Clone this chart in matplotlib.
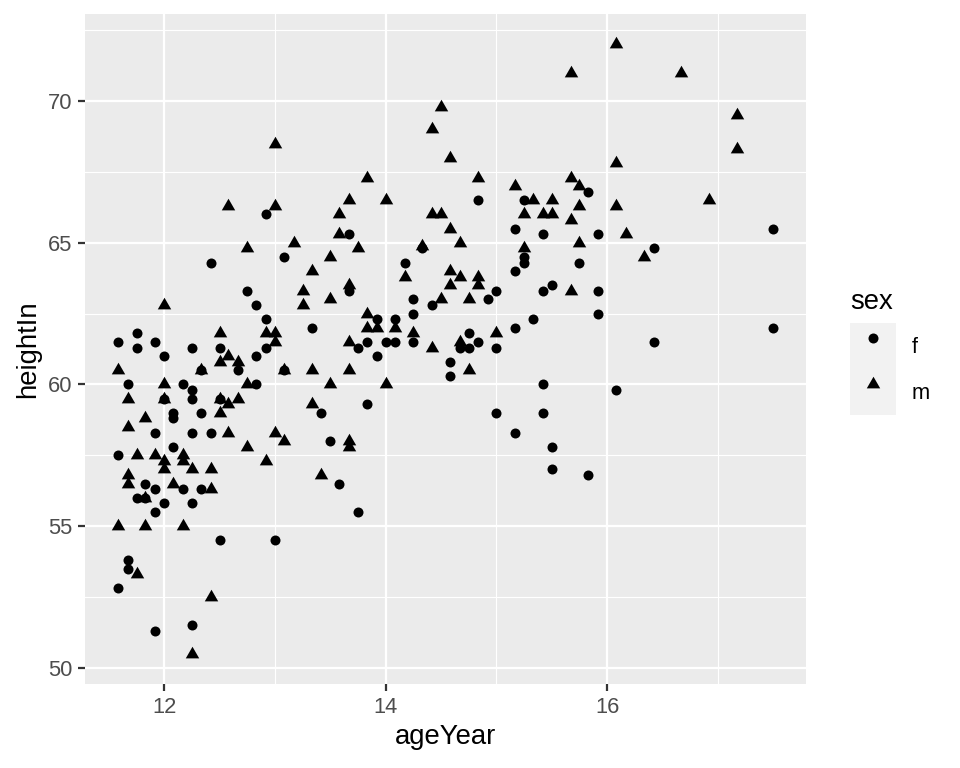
import matplotlib
matplotlib.use('Agg')
import matplotlib.pyplot as plt
import numpy as np
from matplotlib.lines import Line2D
from matplotlib.patches import Rectangle
from matplotlib.legend_handler import HandlerTuple

plt.rcParams['font.family'] = ['Liberation Sans', 'DejaVu Sans']

# girls (circles)
f_age = [
    11.58, 11.58, 11.58, 11.67, 11.67, 11.67, 11.75, 11.75, 11.75, 11.83,
    11.83, 11.92, 11.92, 11.92, 11.92, 11.92, 12.00, 12.00, 12.00, 12.08,
    12.08, 12.08, 12.17, 12.17, 12.25, 12.25, 12.25, 12.25, 12.25, 12.25,
    12.33, 12.33, 12.33, 12.42, 12.42, 12.50, 12.50, 12.50, 12.67, 12.75,
    12.83, 12.83, 12.83, 12.92, 12.92, 12.92, 13.00, 13.08, 13.08, 13.33,
    13.42, 13.50, 13.58, 13.67, 13.67, 13.75, 13.75, 13.83, 13.83, 13.92,
    13.92, 14.00, 14.08, 14.08, 14.17, 14.25, 14.25, 14.25, 14.33, 14.42,
    14.58, 14.58, 14.67, 14.75, 14.75, 14.83, 14.83, 14.92, 15.00, 15.00,
    15.00, 15.17, 15.17, 15.17, 15.17, 15.25, 15.25, 15.25, 15.33, 15.42,
    15.42, 15.42, 15.42, 15.50, 15.50, 15.50, 15.75, 15.83, 15.83, 15.92,
    15.92, 15.92, 16.08, 16.42, 16.42, 17.50, 17.50]
f_height = [
    61.5, 57.5, 52.8, 60.0, 53.8, 53.5, 61.8, 61.3, 56.0, 56.5,
    56.0, 61.5, 58.3, 56.3, 55.5, 51.3, 61.0, 59.5, 55.8, 59.0,
    58.8, 57.8, 60.0, 56.3, 61.3, 59.8, 59.5, 58.3, 55.8, 51.5,
    60.5, 59.0, 56.3, 64.3, 58.3, 61.3, 59.5, 54.5, 60.5, 63.3,
    62.8, 61.0, 60.0, 66.0, 62.3, 61.3, 54.5, 64.5, 60.5, 62.0,
    59.0, 58.0, 56.5, 65.3, 63.3, 61.3, 55.5, 61.5, 59.3, 62.3,
    61.0, 61.5, 62.3, 61.5, 64.3, 63.0, 62.5, 61.5, 64.8, 62.8,
    60.8, 60.3, 61.3, 61.8, 61.3, 66.5, 61.5, 63.0, 63.3, 61.3,
    59.0, 65.5, 64.0, 62.0, 58.3, 66.5, 64.5, 64.3, 62.3, 65.3,
    63.3, 60.0, 59.0, 63.5, 57.8, 57.0, 64.3, 66.8, 56.8, 65.3,
    63.3, 62.5, 59.8, 64.8, 61.5, 65.5, 62.0]

# boys (triangles)
m_age = [
    11.58, 11.58, 11.67, 11.67, 11.67, 11.67, 11.75, 11.75, 11.83, 11.83,
    11.83, 11.92, 12.00, 12.00, 12.00, 12.00, 12.00, 12.08, 12.17, 12.17,
    12.17, 12.25, 12.25, 12.33, 12.42, 12.42, 12.42, 12.50, 12.50, 12.50,
    12.50, 12.58, 12.58, 12.58, 12.58, 12.67, 12.67, 12.75, 12.75, 12.75,
    12.92, 12.92, 13.00, 13.00, 13.00, 13.00, 13.00, 13.08, 13.08, 13.17,
    13.25, 13.25, 13.33, 13.33, 13.33, 13.42, 13.50, 13.50, 13.50, 13.58,
    13.58, 13.67, 13.67, 13.67, 13.67, 13.67, 13.67, 13.75, 13.83, 13.83,
    13.83, 13.92, 14.00, 14.00, 14.08, 14.17, 14.25, 14.33, 14.42, 14.42,
    14.42, 14.50, 14.50, 14.50, 14.58, 14.58, 14.58, 14.58, 14.67, 14.67,
    14.67, 14.75, 14.75, 14.83, 14.83, 14.83, 15.00, 15.17, 15.25, 15.25,
    15.33, 15.42, 15.50, 15.50, 15.67, 15.67, 15.67, 15.67, 15.75, 15.75,
    15.75, 16.08, 16.08, 16.08, 16.17, 16.33, 16.67, 16.92, 17.17, 17.17]
m_height = [
    60.5, 55.0, 59.5, 58.5, 56.8, 56.5, 57.5, 53.3, 58.8, 56.0,
    55.0, 57.5, 62.8, 60.0, 59.5, 57.3, 57.0, 56.5, 57.5, 57.3,
    55.0, 57.0, 50.5, 60.5, 57.0, 56.3, 52.5, 61.8, 60.8, 59.5,
    59.0, 66.3, 61.0, 59.3, 58.3, 60.8, 59.5, 64.8, 60.0, 57.8,
    61.8, 57.3, 68.5, 66.3, 61.8, 61.5, 58.3, 60.5, 58.0, 65.0,
    63.3, 62.8, 64.0, 60.5, 59.3, 56.8, 64.5, 63.0, 60.0, 66.0,
    65.3, 66.5, 63.5, 61.5, 60.5, 58.0, 57.8, 64.8, 67.3, 62.5,
    62.0, 62.0, 66.5, 60.0, 62.0, 63.8, 61.8, 64.9, 69.0, 66.0,
    61.3, 69.8, 66.0, 63.0, 68.0, 65.5, 64.0, 63.5, 65.0, 63.8,
    61.5, 63.0, 60.5, 67.3, 63.8, 63.5, 61.8, 67.0, 66.0, 64.8,
    66.5, 66.0, 66.5, 66.0, 71.0, 67.3, 65.8, 63.3, 67.0, 66.3,
    65.0, 72.0, 67.8, 66.3, 65.3, 64.5, 71.0, 66.5, 69.5, 68.3]

x_major = [12, 14, 16]
x_minor = [13, 15, 17]
y_major = [50, 55, 60, 65, 70]
y_minor = [52.5, 57.5, 62.5, 67.5, 72.5]

# R-style filled triangle (pch 17), centred on centroid
tri = [(-1, -0.577), (1, -0.577), (0, 1.155)]
circ_ms = 4.8
tri_ms = 7.46
tick_fs = 10.5
title_fs = 13.2

fig = plt.figure(figsize=(6.4, 5.12), dpi=150)
ax = fig.add_axes([85/960, 1-684/768, (806-85)/960, (684-14)/768])
ax.set_facecolor('#EBEBEB')

ax.plot(f_age, f_height, linestyle='none', marker='o', ms=circ_ms, mew=0, color='black', zorder=3)
ax.plot(m_age, m_height, linestyle='none', marker=tri, ms=tri_ms, mew=0, color='black', zorder=3)

allx = np.array(f_age + m_age)
ally = np.array(f_height + m_height)
dx = (allx.max() - allx.min()) * 0.05
dy = (ally.max() - ally.min()) * 0.05
ax.set_xlim(allx.min() - dx, allx.max() + dx)
ax.set_ylim(ally.min() - dy, ally.max() + dy)

ax.set_xticks(x_major)
ax.set_xticks(x_minor, minor=True)
ax.set_yticks(y_major)
ax.set_yticks(y_minor, minor=True)
ax.grid(which='major', color='white', linewidth=1.07)
ax.grid(which='minor', color='white', linewidth=0.53)
ax.set_axisbelow(True)
for s in ax.spines.values():
    s.set_visible(False)
ax.tick_params(which='major', length=3.5, width=1.07, color='#333333',
               labelsize=tick_fs, labelcolor='#4D4D4D', pad=2.6)
ax.tick_params(which='minor', length=0)

ax.set_xlabel('ageYear', fontsize=title_fs, labelpad=3.0)
ax.set_ylabel('heightIn', fontsize=title_fs, labelpad=3.0)

key_bg = dict(facecolor='#F2F2F2', edgecolor='none')
h_f = (Rectangle((0, 0), 1, 1, **key_bg),
       Line2D([], [], linestyle='none', marker='o', ms=circ_ms, mew=0, color='black'))
h_m = (Rectangle((0, 0), 1, 1, **key_bg),
       Line2D([], [], linestyle='none', marker=tri, ms=tri_ms, mew=0, color='black'))
leg = ax.legend([h_f, h_m], ['f', 'm'], title='sex',
                handler_map={tuple: HandlerTuple(ndivide=1)},
                loc='center left', bbox_to_anchor=(850/960, 1-352/768),
                bbox_transform=fig.transFigure, frameon=False,
                fontsize=tick_fs, title_fontsize=title_fs, numpoints=1,
                handlelength=2.10, handleheight=2.86, labelspacing=0,
                handletextpad=0.73, borderpad=0, borderaxespad=0,
                alignment='left')
leg._legend_box.sep = 4

fig.savefig('out.png', dpi=150)
